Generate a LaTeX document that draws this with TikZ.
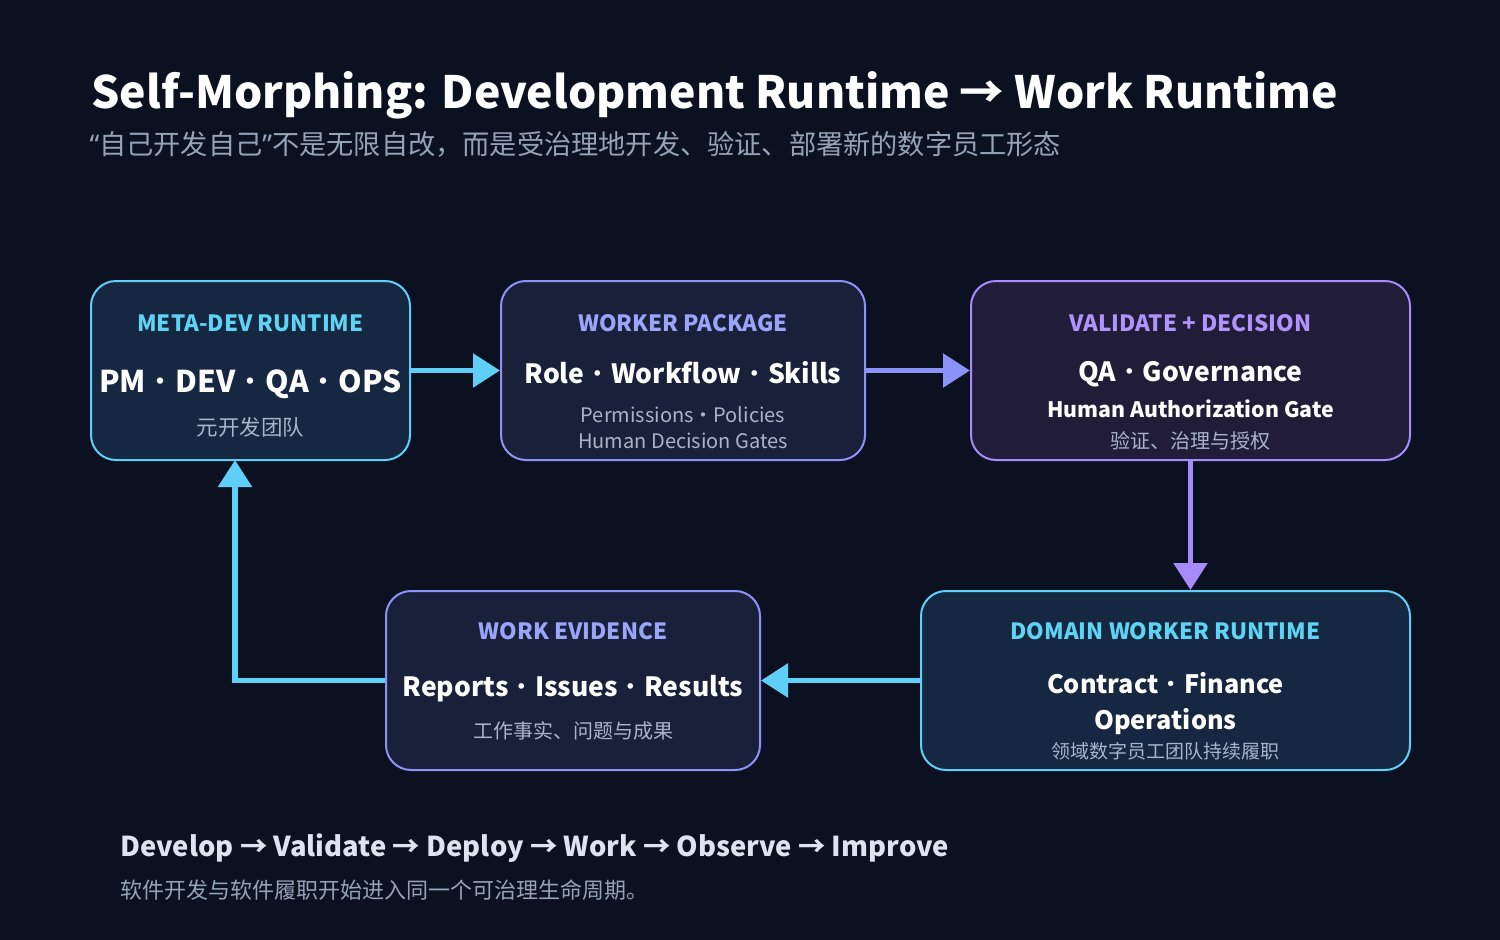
\documentclass[tikz,border=0pt]{standalone}
\usepackage{fontspec}
\setmainfont{Noto Sans CJK SC}
\newfontfamily\latinq{Noto Sans}
\usetikzlibrary{arrows.meta}

\definecolor{bgc}{HTML}{0B1120}
\definecolor{cyanc}{HTML}{60CFF7}
\definecolor{indc}{HTML}{8C93F8}
\definecolor{violc}{HTML}{A78BFA}
\definecolor{cyanhead}{HTML}{5ED3F3}
\definecolor{indhead}{HTML}{9AA5FA}
\definecolor{violhead}{HTML}{AE94FB}
\definecolor{fillblue}{HTML}{152741}
\definecolor{fillind}{HTML}{19213A}
\definecolor{fillviol}{HTML}{211C38}
\definecolor{subc}{HTML}{A9B4C8}
\definecolor{capc}{HTML}{94A3B8}
\definecolor{flowc}{HTML}{DCE4F0}

\newcommand{\sepdot}{{\mdseries ・}}

\tikzset{
  card/.style={rectangle,rounded corners=25pt,line width=2pt,inner sep=0pt},
  head/.style={font=\fontsize{22.4}{26}\selectfont\bfseries},
  big/.style={text=white,font=\fontsize{26.5}{36}\selectfont\bfseries,align=center},
  small/.style={text=subc,font=\fontsize{20}{26}\selectfont,align=center},
  flow/.style={line width=5.5pt,-{Triangle[length=27pt,width=33pt]}}
}

\begin{document}
\begin{tikzpicture}[x=1pt,y=-1pt]
  \fill[bgc] (0,0) rectangle (1500,940);
  \useasboundingbox (0,0) rectangle (1500,940);

  % title
  \node[anchor=west,text=white,font=\fontsize{44.5}{52}\selectfont\bfseries] (title) at (88,95)
    {Self-Morphing: Development Runtime → Work Runtime};
  \node[anchor=west,text=capc,font=\fontsize{27.2}{30}\selectfont] (subtitle) at (86,144)
    {{\latinq “}自己开发自己{\latinq ”}不是无限自改，而是受治理地开发、验证、部署新的数字员工形态};

  % cards
  \node[card,draw=cyanc,fill=fillblue,minimum width=319,minimum height=179] (meta)  at (250.5,370.5) {};
  \node[card,draw=indc,fill=fillind,minimum width=364,minimum height=179]   (pack)  at (683,370.5) {};
  \node[card,draw=violc,fill=fillviol,minimum width=439,minimum height=179] (valid) at (1190.5,370.5) {};
  \node[card,draw=cyanc,fill=fillblue,minimum width=489,minimum height=179] (domain) at (1165.5,680.5) {};
  \node[card,draw=indc,fill=fillind,minimum width=374,minimum height=179]   (evid)  at (573,680.5) {};

  % card texts
  \node[head,text=cyanhead] (metah) at (250.5,323) {META-DEV RUNTIME};
  \node[big,font=\fontsize{30}{36}\selectfont\bfseries] (metab) at (250.5,384) {PM\sepdot DEV\sepdot QA\sepdot OPS};
  \node[small,font=\fontsize{21.5}{26}\selectfont] (metas) at (250.5,427) {元开发团队};

  \node[head,text=indhead] (packh) at (683,323) {WORKER PACKAGE};
  \node[big] (packb) at (683,373) {Role\sepdot Workflow\sepdot Skills};
  \node[small] (packs) at (683,428) {Permissions\sepdot Policies\\Human Decision Gates};

  \node[head,text=violhead] (validh) at (1190.5,323) {VALIDATE + DECISION};
  \node[big] (validb) at (1190.5,374) {QA\sepdot Governance};
  \node[text=white,font=\fontsize{21.3}{26}\selectfont\bfseries] (validg) at (1190.5,409) {Human Authorization Gate};
  \node[small] (valids) at (1190.5,441) {验证、治理与授权};

  \node[head,text=cyanhead] (domainh) at (1165.5,631) {DOMAIN WORKER RUNTIME};
  \node[big,font=\fontsize{25.3}{36}\selectfont\bfseries] (domainb) at (1165.5,704) {Contract\sepdot Finance\\Operations};
  \node[small,font=\fontsize{19}{24}\selectfont] (domains) at (1165.5,751) {领域数字员工团队持续履职};

  \node[head,text=indhead] (evidh) at (573,631) {WORK EVIDENCE};
  \node[big] (evidb) at (573,689) {Reports\sepdot Issues\sepdot Results};
  \node[small] (evids) at (573,731) {工作事实、问题与成果};

  % connectors
  \coordinate (metain) at (235,460);
  \draw[flow,cyanc] (meta.east) -- (pack.west);
  \draw[flow,indc] (pack.east) -- (valid.west);
  \draw[flow,violc] (valid.south) -- (domain.north -| valid.south);
  \draw[flow,cyanc] (domain.west) -- (evid.east);
  \draw[flow,cyanc] (evid.west) -| (metain);

  % footer
  \node[anchor=west,text=flowc,font=\fontsize{27.4}{36}\selectfont\bfseries] (cycle) at (117,848)
    {Develop → Validate → Deploy → Work → Observe → Improve};
  \node[anchor=west,text=capc,font=\fontsize{22}{26}\selectfont] (cyclecn) at (117,890)
    {软件开发与软件履职开始进入同一个可治理生命周期。};
\end{tikzpicture}
\end{document}
